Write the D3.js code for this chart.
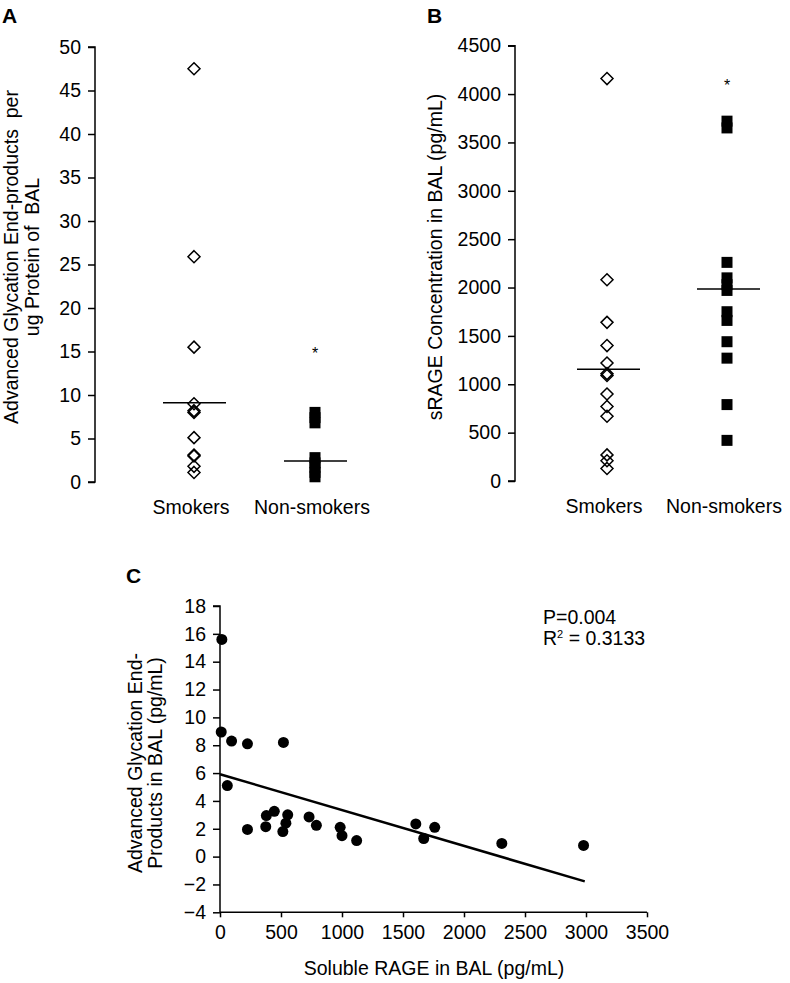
<!DOCTYPE html>
<html><head><meta charset="utf-8">
<script src="https://cdn.jsdelivr.net/npm/d3@7"></script>
<style>
html,body{margin:0;padding:0;background:#fff;}
text{font-family:"Liberation Sans",Arial,sans-serif;fill:#000;}
</style></head>
<body>
<svg id="chart" width="790" height="983"></svg>
<script>
// ---------- Data ----------
const groups = ["Smokers", "Non-smokers"];
// Panel A: AGE per ug protein of BAL
const ageSmokers = [47.5, 25.9, 15.5, 9.0, 8.2, 8.0, 5.1, 3.1, 3.0, 1.8, 1.1];
const ageNonSmokers = [8.0, 7.4, 6.8, 2.8, 2.2, 1.7, 1.1, 0.6];
const ageMeans = [9.1, 2.4];
const ageTicks = [0, 5, 10, 15, 20, 25, 30, 35, 40, 45, 50];
const ageStar = 15.2;
// Panel B: sRAGE concentration in BAL
const sragSmokers = [4160, 2080, 1640, 1400, 1220, 1110, 1090, 900, 770, 670, 270, 210, 130];
const sragNonSmokers = [3720, 3650, 2260, 2100, 2030, 1970, 1750, 1660, 1440, 1270, 790, 420];
const sragMeans = [1155, 1985];
const sragTicks = [0, 500, 1000, 1500, 2000, 2500, 3000, 3500, 4000, 4500];
const sragStar = 4120;
// Panel C: scatter sRAGE (x) vs AGE (y)
const scatterX = [15, 10, 95, 225, 520, 60, 225, 380, 375, 445, 515, 540, 555, 730, 790, 985, 1000, 1120, 1605, 1670, 1760, 2310, 2980];
const scatterY = [15.6, 8.95, 8.3, 8.1, 8.2, 5.1, 1.95, 2.95, 2.15, 3.25, 1.8, 2.4, 3.0, 2.85, 2.25, 2.1, 1.5, 1.15, 2.35, 1.3, 2.1, 0.95, 0.8];
const fitX = [0, 2990];
const fitY = [5.92, -1.78];
const cXTicks = [0, 500, 1000, 1500, 2000, 2500, 3000, 3500];
const cYTicks = [-4, -2, 0, 2, 4, 6, 8, 10, 12, 14, 16, 18];

const svg = d3.select("#chart");
const FS = 19.5;
const FF = '"Liberation Sans",Arial,sans-serif';
const fmt = d => d < 0 ? "\u2212" + Math.abs(d) : String(d);

function diamond(g, x, y, r) {
  g.append("path")
    .attr("d", `M${x},${y - r}L${x + r},${y}L${x},${y + r}L${x - r},${y}Z`)
    .attr("fill", "none").attr("stroke", "#000").attr("stroke-width", 1.5);
}

function yAxisLeft(g, scale, ticks, xPos) {
  const ax = d3.axisLeft(scale).tickValues(ticks).tickSize(7).tickPadding(7).tickFormat(fmt);
  const a = g.append("g").attr("transform", `translate(${xPos},0)`).call(ax);
  a.select(".domain").attr("stroke", "#000").attr("stroke-width", 1.5);
  a.selectAll(".tick line").attr("stroke", "#000").attr("stroke-width", 1.5);
  a.selectAll(".tick text").attr("font-size", FS).attr("font-family", FF).attr("fill", "#000");
  return a;
}

function groupPanel(opts) {
  const g = svg.append("g");
  const y = d3.scaleLinear().domain(opts.domain).range(opts.range);
  const x = d3.scaleOrdinal().domain(groups).range(opts.xpos);
  const ax = yAxisLeft(g, y, opts.ticks, opts.axisX);
  ax.select(".domain").attr("d", `M-7,${opts.range[1]}H0V${opts.range[0]}H-7`);
  // smokers: open diamonds
  opts.smokers.forEach(v => diamond(g, x(groups[0]), y(v), 6));
  // non-smokers: filled squares
  const s = 11;
  g.selectAll("rect.ns").data(opts.nonsmokers).join("rect")
    .attr("x", x(groups[1]) - s / 2).attr("y", d => y(d) - s / 2)
    .attr("width", s).attr("height", s).attr("fill", "#000");
  // mean lines
  g.selectAll("line.mean").data(opts.means).join("line")
    .attr("x1", (d, i) => x(groups[i]) - opts.meanHalf[0])
    .attr("x2", (d, i) => x(groups[i]) + opts.meanHalf[1])
    .attr("y1", d => y(d)).attr("y2", d => y(d))
    .attr("stroke", "#000").attr("stroke-width", 1.5);
  // asterisk
  g.append("text").attr("x", x(groups[1])).attr("y", y(opts.star) + 9)
    .attr("text-anchor", "middle").attr("font-size", 16).text("*");
  // category labels
  groups.forEach((c, i) => {
    g.append("text").attr("x", x(c) - 3).attr("y", opts.labelY)
      .attr("text-anchor", "middle").attr("font-size", FS).text(c);
  });
  return g;
}

// Panel A
groupPanel({
  domain: [0, 50], range: [482, 47], ticks: ageTicks, axisX: 95,
  xpos: [194, 315], smokers: ageSmokers, nonsmokers: ageNonSmokers,
  means: ageMeans, meanHalf: [31, 32], star: ageStar, labelY: 514
});
// Panel B
groupPanel({
  domain: [0, 4500], range: [481, 45.7], ticks: sragTicks, axisX: 515,
  xpos: [607, 727], smokers: sragSmokers, nonsmokers: sragNonSmokers,
  means: sragMeans, meanHalf: [30, 33], star: sragStar, labelY: 513
});

// Panel letters
svg.append("text").attr("x", 2).attr("y", 23).attr("font-size", 21).attr("font-weight", "bold").text("A");
svg.append("text").attr("x", 427).attr("y", 23).attr("font-size", 21).attr("font-weight", "bold").text("B");
svg.append("text").attr("x", 126).attr("y", 583).attr("font-size", 21).attr("font-weight", "bold").text("C");

// Y axis titles A, B
const tA = svg.append("text").attr("transform", "translate(18,257) rotate(-90)")
  .attr("text-anchor", "middle").attr("font-size", FS).attr("xml:space", "preserve");
tA.append("tspan").attr("x", 0).attr("y", 0).text("Advanced Glycation End-products  per");
tA.append("tspan").attr("x", 0).attr("y", 21).text("ug Protein of  BAL");
svg.append("text").attr("transform", "translate(442,257) rotate(-90)")
  .attr("text-anchor", "middle").attr("font-size", FS).text("sRAGE Concentration in BAL (pg/mL)");

// Panel C
const gC = svg.append("g");
const cx = d3.scaleLinear().domain([0, 3500]).range([220, 647]);
const cy = d3.scaleLinear().domain([-4, 18]).range([912.3, 606]);
const axY = yAxisLeft(gC, cy, cYTicks, 220);
axY.select(".domain").attr("d", `M-7,${cy(18)}H0V${cy(-4)}`);
const axX = gC.append("g").attr("transform", `translate(0,${cy(-4)})`)
  .call(d3.axisBottom(cx).tickValues(cXTicks).tickSize(5).tickPadding(8).tickFormat(fmt));
axX.select(".domain").attr("stroke", "#000").attr("stroke-width", 1.5).attr("d", `M${cx(0)},0H${cx(3500)}`);
axX.selectAll(".tick line").attr("stroke", "#000").attr("stroke-width", 1.5);
axX.selectAll(".tick text").attr("font-size", FS).attr("font-family", FF).attr("fill", "#000");

gC.append("line").attr("x1", cx(fitX[0])).attr("y1", cy(fitY[0]))
  .attr("x2", cx(fitX[1])).attr("y2", cy(fitY[1]))
  .attr("stroke", "#000").attr("stroke-width", 2.5);
gC.selectAll("circle").data(scatterX.map((v, i) => [v, scatterY[i]])).join("circle")
  .attr("cx", d => cx(d[0])).attr("cy", d => cy(d[1])).attr("r", 5.5).attr("fill", "#000");

gC.append("text").attr("x", 543).attr("y", 624).attr("font-size", FS).text("P=0.004");
const r2 = gC.append("text").attr("x", 543).attr("y", 645).attr("font-size", FS);
r2.append("tspan").text("R");
r2.append("tspan").attr("font-size", 11).attr("dy", -7).text("2");
r2.append("tspan").attr("dy", 7).text(" = 0.3133");

const tC = svg.append("text").attr("transform", "translate(142,763) rotate(-90)")
  .attr("text-anchor", "middle").attr("font-size", FS);
tC.append("tspan").attr("x", 0).attr("y", 0).text("Advanced Glycation End-");
tC.append("tspan").attr("x", 0).attr("y", 20).text("Products in BAL (pg/mL)");
svg.append("text").attr("x", 434).attr("y", 975).attr("text-anchor", "middle")
  .attr("font-size", FS).text("Soluble RAGE in BAL (pg/mL)");
</script>
</body></html>
